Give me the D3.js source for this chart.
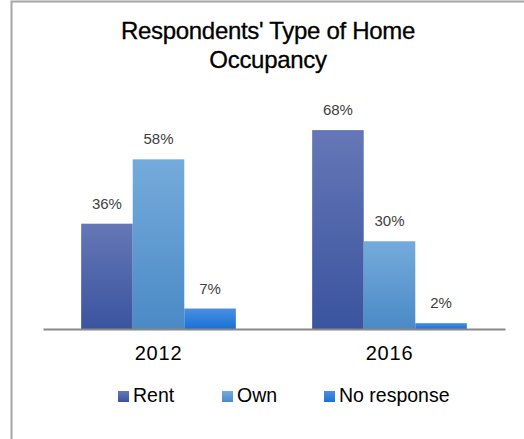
<!DOCTYPE html>
<html>
<head>
<meta charset="utf-8">
<script src="https://cdn.jsdelivr.net/npm/d3@7"></script>
<style>
  body { margin: 0; background: #fff; }
  svg { display: block; font-family: "Liberation Sans", Arial, sans-serif; }
</style>
</head>
<body>
<div id="chart"></div>
<script>
const years = ["2012", "2016"];
const series = ["Rent", "Own", "No response"];
const rent = [36, 68];
const own = [58, 30];
const noResponse = [7, 2];
const titleLines = ["Respondents' Type of Home", "Occupancy"];

const width = 524, height = 439;
const margin = ({top: 94, right: 19, bottom: 110, left: 43});
const baseline = 329;

const colors = {
    "Rent": ["#6577b6", "#3a549f"],
    "Own": ["#75abdb", "#4a8ac6"],
    "No response": ["#4b8fe2", "#1971d5"]
};

const values = [rent, own, noResponse];

const svg = d3.select("#chart")
    .append("svg")
    .attr("width", width)
    .attr("height", height);

const defs = svg.append("defs");
series.forEach((s, i) => {
    const g = defs.append("linearGradient")
        .attr("id", "grad" + i)
        .attr("x1", 0).attr("y1", 0).attr("x2", 0).attr("y2", 1);
    g.append("stop").attr("offset", "0%").attr("stop-color", colors[s][0]);
    g.append("stop").attr("offset", "100%").attr("stop-color", colors[s][1]);
});

// frame
svg.append("path")
    .attr("d", `M11.5,${height} V1.5 H${width}`)
    .attr("fill", "none")
    .attr("stroke", "#a6a6a6")
    .attr("stroke-width", 2);

// title
svg.append("g")
    .selectAll("text")
    .data(titleLines)
    .join("text")
    .attr("x", 268)
    .attr("y", (d, i) => 39 + i * 29)
    .attr("text-anchor", "middle")
    .attr("font-size", 24)
    .attr("fill", "#000")
    .attr("stroke", "#000")
    .attr("stroke-width", 0.3)
    .attr("letter-spacing", -0.3)
    .text(d => d);

const x0 = d3.scaleBand()
    .domain(years)
    .range([margin.left, width - margin.right]);

const x1 = d3.scaleBand()
    .domain(series)
    .range([0, x0.bandwidth()])
    .paddingOuter(0.74);

const y = d3.scaleLinear()
    .domain([0, 80])
    .range([baseline, baseline - 234]);

const groups = svg.append("g")
    .selectAll("g")
    .data(years)
    .join("g")
    .attr("transform", d => `translate(${x0(d)},0)`);

const cells = (d, yi) => series.map((s, si) => ({s, si, v: values[si][yi]}));

groups.selectAll("rect")
    .data(cells)
    .join("rect")
    .attr("x", d => x1(d.s))
    .attr("width", x1.bandwidth())
    .attr("y", d => y(d.v))
    .attr("height", d => y(0) - y(d.v))
    .attr("fill", d => `url(#grad${d.si})`);

groups.selectAll("text")
    .data(cells)
    .join("text")
    .attr("x", d => x1(d.s) + x1.bandwidth() / 2)
    .attr("y", d => y(d.v) - 15)
    .attr("text-anchor", "middle")
    .attr("font-size", 15)
    .attr("fill", "#404040")
    .text(d => d.v + "%");

// axis
const xAxis = d3.axisBottom(x0).tickSize(0).tickPadding(17);
const axisG = svg.append("g")
    .attr("transform", `translate(0,${baseline})`)
    .call(xAxis);
axisG.select(".domain").attr("stroke", "#888").attr("stroke-width", 2);
axisG.selectAll("text")
    .attr("font-size", 20)
    .attr("letter-spacing", 0.8)
    .attr("fill", "#000")
    .attr("font-family", "Liberation Sans, Arial, sans-serif");

// legend
const legendX = [118, 222, 324];
const legend = svg.append("g")
    .selectAll("g")
    .data(series)
    .join("g")
    .attr("transform", (d, i) => `translate(${legendX[i]},391)`);

legend.append("rect")
    .attr("width", 11)
    .attr("height", 11)
    .attr("fill", (d, i) => `url(#grad${i})`);

legend.append("text")
    .attr("x", 15)
    .attr("y", 11)
    .attr("font-size", 19.5)
    .attr("fill", "#000")
    .text(d => d);
</script>
</body>
</html>
